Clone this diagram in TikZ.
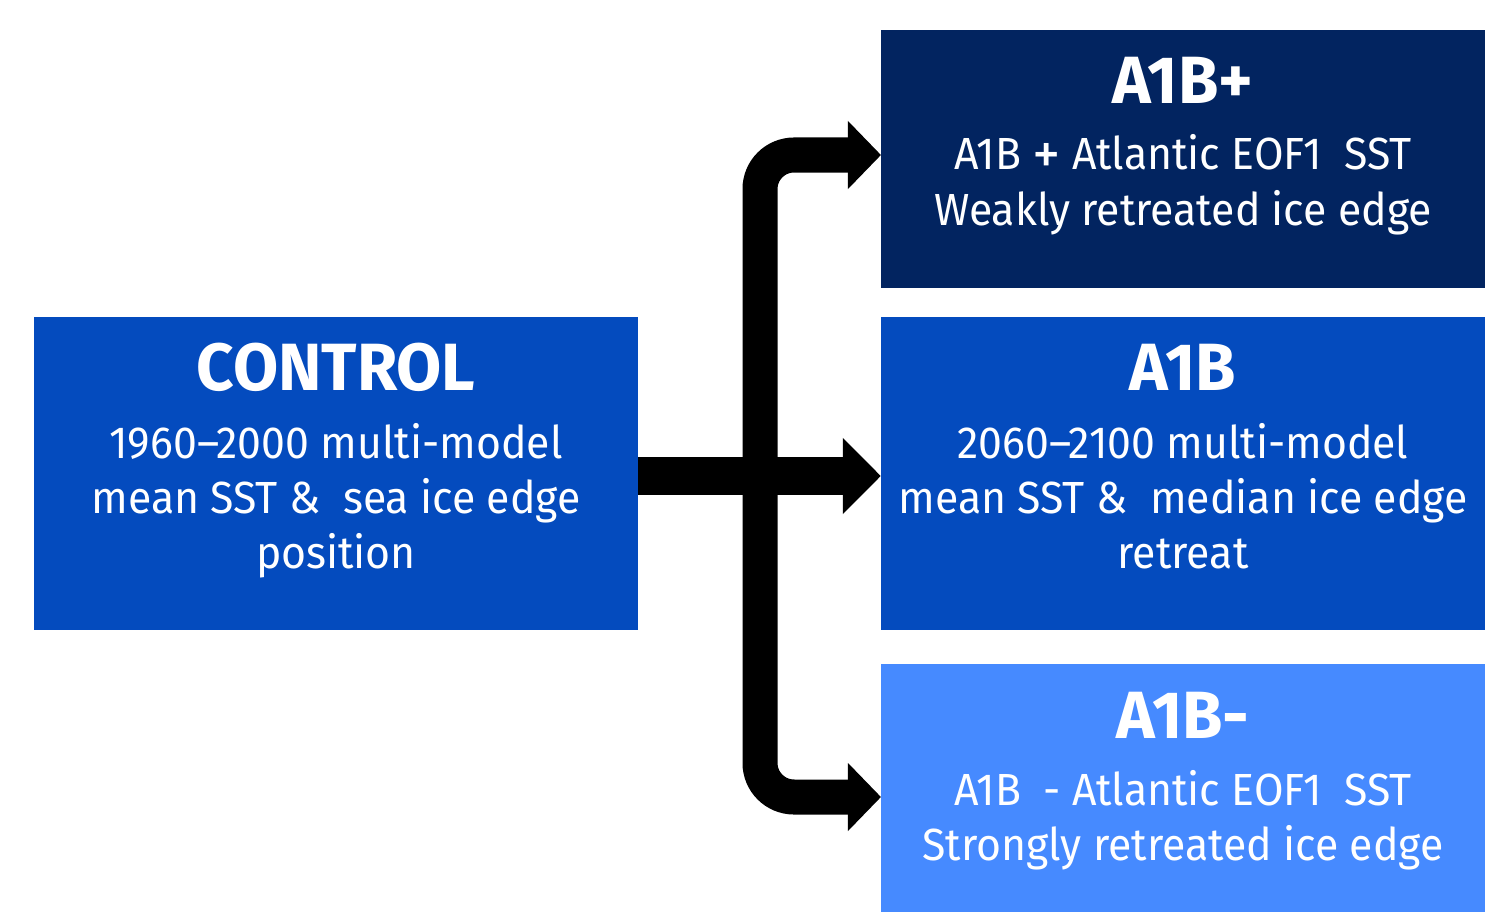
\documentclass[tikz,border=0pt]{standalone}
\usepackage{fontspec}
\setmainfont{Fira Sans}[FakeStretch=0.95]
\newfontfamily\titlefont{Fira Sans}[FakeStretch=0.98]
\usetikzlibrary{arrows.meta}
\definecolor{navy}{HTML}{022460}
\definecolor{midblue}{HTML}{044BBE}
\definecolor{lightblue}{HTML}{468AFF}
\tikzset{
  box/.style={draw=none, minimum width=6.04cm, inner sep=0pt, outer sep=0pt},
  title/.style={anchor=base, text=white, font=\titlefont\fontsize{19}{22}\selectfont\bfseries, inner sep=0pt},
  body/.style={anchor=base, text=white, font=\fontsize{12.8}{15}\selectfont, inner sep=0pt},
  conn/.style={draw=black, line width=0.37cm, line cap=butt, -{Triangle[length=0.38cm,width=0.74cm]}},
  conn2/.style={draw=black, line width=0.35cm, line cap=butt, rounded corners=0.34cm, -{Triangle[length=0.33cm,width=0.66cm]}}
}
\begin{document}
\begin{tikzpicture}[x=0.01cm,y=-0.01cm]
\useasboundingbox[fill=white] (0,0) rectangle (1488,912);
% boxes
\node[box, fill=midblue, minimum height=3.13cm] (ctrl) at (336,473.5) {};
\node[box, fill=navy, minimum height=2.58cm] (a1bp) at (1183,159) {};
\node[box, fill=midblue, minimum height=3.13cm] (a1b) at (1183,473.5) {};
\node[box, fill=lightblue, minimum height=2.48cm] (a1bm) at (1183,788) {};
% texts
\node[title] (ctrlT) at (336,390) {CONTROL};
\node[body] (ctrl1) at (336,458) {1960–2000 multi-model};
\node[body] (ctrl2) at (336,513) {mean SST \&\ \ sea ice edge};
\node[body] (ctrl3) at (336,568) {position};
\node[title] (a1bpT) at (1183,103) {A1B+};
\node[body] (a1bp1) at (1183,169) {A1B \raisebox{-0.05cm}{\fontsize{17}{15}\selectfont +} Atlantic EOF1\ \ SST};
\node[body] (a1bp2) at (1183,225) {Weakly retreated ice edge};
\node[title] (a1bT) at (1183,390) {A1B};
\node[body] (a1b1) at (1183,458) {2060–2100 multi-model};
\node[body] (a1b2) at (1183,513) {mean SST \&\ \ median ice edge};
\node[body] (a1b3) at (1183,568) {retreat};
\node[title] (a1bmT) at (1183,738) {A1B-};
\node[body] (a1bm1) at (1183,805) {A1B\ \ - Atlantic EOF1\ \ SST};
\node[body] (a1bm2) at (1183,860) {Strongly retreated ice edge};
% connectors
\coordinate (j) at (760,476);
\coordinate (tt) at (881,155);
\coordinate (tb) at (881,797);
\draw[conn] (ctrl.east |- j) -- (a1b.west |- j);
\draw[conn2] (j) |- (tt);
\draw[conn2] (j) |- (tb);
\end{tikzpicture}
\end{document}
